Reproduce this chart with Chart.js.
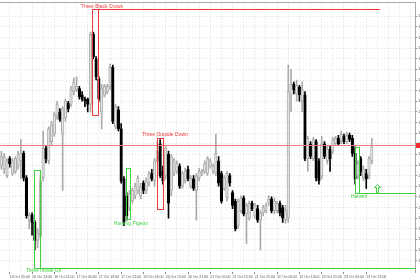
<!DOCTYPE html>
<html>
<head>
<meta charset="utf-8">
<script src="https://cdn.jsdelivr.net/npm/chart.js@4.4.1/dist/chart.umd.min.js"></script>
<style>
  html, body { margin: 0; padding: 0; background: #fff; }
  canvas { display: block; }
</style>
</head>
<body>
<canvas id="chart" width="420" height="280"></canvas>
<script>
// hourly bars, EURUSD-like, 16 Oct 02:00 .. 23 Oct 15:00 (plus empty slots on the right)
const times = [
  '16 Oct 02:00','16 Oct 03:00','16 Oct 04:00','16 Oct 05:00','16 Oct 06:00','16 Oct 07:00','16 Oct 08:00','16 Oct 09:00',
  '16 Oct 10:00','16 Oct 11:00','16 Oct 12:00','16 Oct 13:00','16 Oct 14:00','16 Oct 15:00','16 Oct 16:00','16 Oct 17:00',
  '16 Oct 18:00','16 Oct 19:00','16 Oct 20:00','16 Oct 21:00','16 Oct 22:00','16 Oct 23:00',
  '17 Oct 00:00','17 Oct 01:00','17 Oct 02:00','17 Oct 03:00','17 Oct 04:00','17 Oct 05:00','17 Oct 06:00','17 Oct 07:00',
  '17 Oct 08:00','17 Oct 09:00','17 Oct 10:00','17 Oct 11:00','17 Oct 12:00','17 Oct 13:00','17 Oct 14:00','17 Oct 15:00',
  '17 Oct 16:00','17 Oct 17:00','17 Oct 18:00','17 Oct 19:00','17 Oct 20:00','17 Oct 21:00','17 Oct 22:00','17 Oct 23:00',
  '20 Oct 00:00','20 Oct 01:00','20 Oct 02:00','20 Oct 03:00','20 Oct 04:00','20 Oct 05:00','20 Oct 06:00','20 Oct 07:00',
  '20 Oct 08:00','20 Oct 09:00','20 Oct 10:00','20 Oct 11:00','20 Oct 12:00','20 Oct 13:00','20 Oct 14:00','20 Oct 15:00',
  '20 Oct 16:00','20 Oct 17:00','20 Oct 18:00','20 Oct 19:00','20 Oct 20:00','20 Oct 21:00','20 Oct 22:00','20 Oct 23:00',
  '21 Oct 00:00','21 Oct 01:00','21 Oct 02:00','21 Oct 03:00','21 Oct 04:00','21 Oct 05:00','21 Oct 06:00','21 Oct 07:00',
  '21 Oct 08:00','21 Oct 09:00','21 Oct 10:00','21 Oct 11:00','21 Oct 12:00','21 Oct 13:00','21 Oct 14:00','21 Oct 15:00',
  '21 Oct 16:00','21 Oct 17:00','21 Oct 18:00','21 Oct 19:00','21 Oct 20:00','21 Oct 21:00','21 Oct 22:00','21 Oct 23:00',
  '22 Oct 00:00','22 Oct 01:00','22 Oct 02:00','22 Oct 03:00','22 Oct 04:00','22 Oct 05:00','22 Oct 06:00','22 Oct 07:00',
  '22 Oct 08:00','22 Oct 09:00','22 Oct 10:00','22 Oct 11:00','22 Oct 12:00','22 Oct 13:00','22 Oct 14:00','22 Oct 15:00',
  '22 Oct 16:00','22 Oct 17:00','22 Oct 18:00','22 Oct 19:00','22 Oct 20:00','22 Oct 21:00','22 Oct 22:00','22 Oct 23:00',
  '23 Oct 00:00','23 Oct 01:00','23 Oct 02:00','23 Oct 03:00','23 Oct 04:00','23 Oct 05:00','23 Oct 06:00','23 Oct 07:00',
  '23 Oct 08:00','23 Oct 09:00','23 Oct 10:00','23 Oct 11:00','23 Oct 12:00','23 Oct 13:00','23 Oct 14:00','23 Oct 15:00',
  '23 Oct 16:00','23 Oct 17:00','23 Oct 18:00','23 Oct 19:00','23 Oct 20:00','23 Oct 21:00','23 Oct 22:00','23 Oct 23:00',
  '24 Oct 00:00','24 Oct 01:00','24 Oct 02:00','24 Oct 03:00','24 Oct 04:00','24 Oct 05:00','24 Oct 06:00'
];

const shownTicks = [
  '16 Oct 05:00','16 Oct 13:00','16 Oct 21:00','17 Oct 05:00','17 Oct 13:00','17 Oct 21:00',
  '20 Oct 05:00','20 Oct 13:00','20 Oct 21:00','21 Oct 05:00','21 Oct 13:00','21 Oct 21:00',
  '22 Oct 05:00','22 Oct 13:00','22 Oct 21:00','23 Oct 05:00','23 Oct 13:00'
];

const open = [
  1.2739,1.2736,1.2730,1.2746,1.2732,1.2734,1.2739,1.2744,1.2751,1.2728,
  1.2688,1.2693,1.2686,1.2669,1.2673,1.2728,1.2756,1.2744,1.2762,1.2769,
  1.2786,1.2790,1.2769,1.2784,1.2798,1.2797,1.2809,1.2811,1.2812,1.2806,
  1.2802,1.2802,1.2797,1.2863,1.2840,1.2821,1.2790,1.2806,1.2809,1.2814,
  1.2832,1.2776,1.2792,1.2774,1.2727,1.2711,1.2700,1.2706,1.2711,1.2716,
  1.2711,1.2723,1.2716,1.2723,1.2732,1.2725,1.2744,1.2760,1.2734,1.2730,
  1.2750,1.2716,1.2732,1.2734,1.2739,1.2720,1.2725,1.2736,1.2720,1.2727,
  1.2716,1.2728,1.2732,1.2734,1.2732,1.2739,1.2734,1.2732,1.2744,1.2732,
  1.2718,1.2709,1.2730,1.2714,1.2706,1.2683,1.2697,1.2709,1.2694,1.2690,
  1.2704,1.2692,1.2699,1.2688,1.2695,1.2697,1.2704,1.2708,1.2697,1.2697,
  1.2704,1.2700,1.2688,1.2690,1.2806,1.2816,1.2807,1.2813,1.2800,1.2806,
  1.2746,1.2760,1.2746,1.2762,1.2744,1.2730,1.2760,1.2744,1.2755,1.2753,
  1.2760,1.2765,1.2762,1.2767,1.2762,1.2768,1.2765,1.2751,1.2730,1.2746,
  1.2728,1.2732,1.2730,1.2744
];
const high = [
  1.2753,1.2751,1.2746,1.2748,1.2746,1.2748,1.2753,1.2764,1.2753,1.2730,
  1.2695,1.2695,1.2688,1.2680,1.2730,1.2772,1.2758,1.2776,1.2781,1.2790,
  1.2800,1.2793,1.2795,1.2802,1.2800,1.2814,1.2822,1.2823,1.2814,1.2809,
  1.2804,1.2803,1.2865,1.2865,1.2842,1.2823,1.2816,1.2816,1.2816,1.2835,
  1.2834,1.2797,1.2795,1.2779,1.2729,1.2714,1.2716,1.2718,1.2723,1.2730,
  1.2723,1.2725,1.2728,1.2734,1.2736,1.2746,1.2762,1.2764,1.2739,1.2758,
  1.2753,1.2750,1.2746,1.2744,1.2741,1.2734,1.2737,1.2739,1.2730,1.2730,
  1.2732,1.2737,1.2736,1.2744,1.2748,1.2746,1.2741,1.2769,1.2748,1.2734,
  1.2730,1.2734,1.2732,1.2716,1.2708,1.2708,1.2711,1.2711,1.2704,1.2706,
  1.2706,1.2704,1.2702,1.2697,1.2702,1.2704,1.2711,1.2710,1.2709,1.2706,
  1.2706,1.2702,1.2702,1.2834,1.2830,1.2818,1.2820,1.2815,1.2818,1.2809,
  1.2767,1.2762,1.2766,1.2764,1.2746,1.2767,1.2762,1.2758,1.2758,1.2766,
  1.2767,1.2768,1.2772,1.2769,1.2771,1.2770,1.2768,1.2757,1.2744,1.2748,
  1.2739,1.2736,1.2748,1.2765
];
const low = [
  1.2736,1.2732,1.2728,1.2738,1.2730,1.2732,1.2736,1.2727,1.2725,1.2690,
  1.2680,1.2674,1.2660,1.2662,1.2671,1.2725,1.2742,1.2741,1.2758,1.2767,
  1.2783,1.2781,1.2716,1.2781,1.2790,1.2795,1.2806,1.2809,1.2802,1.2800,
  1.2795,1.2790,1.2790,1.2840,1.2820,1.2800,1.2774,1.2804,1.2807,1.2811,
  1.2779,1.2774,1.2772,1.2723,1.2683,1.2688,1.2697,1.2704,1.2708,1.2713,
  1.2708,1.2713,1.2713,1.2720,1.2725,1.2720,1.2742,1.2728,1.2722,1.2727,
  1.2690,1.2711,1.2730,1.2732,1.2718,1.2718,1.2723,1.2725,1.2718,1.2716,
  1.2688,1.2725,1.2730,1.2732,1.2730,1.2737,1.2732,1.2730,1.2720,1.2704,
  1.2716,1.2706,1.2720,1.2699,1.2678,1.2680,1.2695,1.2692,1.2666,1.2688,
  1.2697,1.2690,1.2686,1.2660,1.2692,1.2695,1.2702,1.2695,1.2694,1.2695,
  1.2692,1.2686,1.2685,1.2686,1.2790,1.2807,1.2800,1.2800,1.2790,1.2744,
  1.2734,1.2746,1.2744,1.2725,1.2722,1.2727,1.2746,1.2741,1.2734,1.2751,
  1.2759,1.2759,1.2760,1.2760,1.2760,1.2762,1.2748,1.2722,1.2727,1.2730,
  1.2725,1.2718,1.2727,1.2741
];
const close = [
  1.2748,1.2748,1.2744,1.2741,1.2744,1.2746,1.2750,1.2751,1.2728,1.2692,
  1.2693,1.2686,1.2669,1.2676,1.2725,1.2756,1.2746,1.2774,1.2778,1.2788,
  1.2797,1.2783,1.2793,1.2800,1.2793,1.2811,1.2818,1.2814,1.2804,1.2802,
  1.2800,1.2797,1.2863,1.2842,1.2823,1.2802,1.2812,1.2814,1.2814,1.2832,
  1.2781,1.2795,1.2774,1.2725,1.2686,1.2692,1.2713,1.2716,1.2720,1.2728,
  1.2720,1.2716,1.2725,1.2732,1.2727,1.2744,1.2753,1.2730,1.2725,1.2756,
  1.2704,1.2748,1.2744,1.2741,1.2720,1.2732,1.2734,1.2727,1.2727,1.2718,
  1.2730,1.2734,1.2734,1.2741,1.2746,1.2744,1.2739,1.2751,1.2723,1.2706,
  1.2728,1.2732,1.2723,1.2702,1.2680,1.2706,1.2709,1.2694,1.2702,1.2704,
  1.2699,1.2702,1.2688,1.2695,1.2700,1.2702,1.2708,1.2697,1.2706,1.2704,
  1.2695,1.2690,1.2697,1.2809,1.2816,1.2811,1.2815,1.2806,1.2811,1.2746,
  1.2765,1.2748,1.2764,1.2728,1.2725,1.2760,1.2748,1.2755,1.2746,1.2764,
  1.2765,1.2760,1.2769,1.2762,1.2768,1.2764,1.2751,1.2727,1.2741,1.2734,
  1.2736,1.2727,1.2746,1.2758
];

// candle pattern marks, in bar index / price units
const patterns = [
  { name: 'Three Black Crows',  bull: false, from: 32.5,  to: 34.6,  top: 1.28865, bottom: 1.27866, line: 'top',    lineTo: 135.7, labelBar: 36.1,  labelPrice: 1.2889 },
  { name: 'Three Outside Down', bull: false, from: 55.8,  to: 57.9,  top: 1.27652, bottom: 1.26989, line: null,     lineTo: null,  labelBar: 58.7,  labelPrice: 1.2769 },
  { name: 'Homing Pigeon',      bull: true,  from: 44.9,  to: 46.3,  top: 1.27372, bottom: 1.26896, line: null,     lineTo: null,  labelBar: 46.5,  labelPrice: 1.2685 },
  { name: 'Three Inside Up',    bull: true,  from: 11.7,  to: 13.8,  top: 1.27353, bottom: 1.26429, line: 'bottom', lineTo: 150,   labelBar: 15.1,  labelPrice: 1.26405 },
  { name: 'Harami',             bull: true,  from: 127.1, to: 128.5, top: 1.27568, bottom: 1.27139, line: 'bottom', lineTo: 150,   labelBar: 128.4, labelPrice: 1.2710 }
];
const levelPrice = 1.27586;
const arrowBar = 135;
const arrowTop = 1.27222, arrowBottom = 1.27148;

const RED = '#f03a3a';
const GREEN = '#3fd23f';

const up = open.map((o, i) => close[i] >= o);
const bodies = open.map((o, i) => [o, close[i]]);
const wicks = low.map((l, i) => [l, high[i]]);

const hourOf = s => parseInt(s.slice(-5, -3), 10);

const patternPlugin = {
  id: 'patterns',
  afterDatasetsDraw(chart) {
    const { ctx, chartArea: a, scales: { x, y } } = chart;
    const px = v => Math.min(Math.round(x.getPixelForValue(v)), Math.round(a.right));
    const py = v => Math.round(y.getPixelForValue(v));
    // solid 1px lines as filled rects (no antialiasing)
    const hLine = (x1, x2, yy) => ctx.fillRect(Math.min(x1, x2), yy, Math.abs(x2 - x1) + 1, 1);
    const vLine = (xx, y1, y2) => ctx.fillRect(xx, Math.min(y1, y2), 1, Math.abs(y2 - y1) + 1);
    ctx.save();

    // level line + price tag
    ctx.fillStyle = '#f47a7a';
    hLine(Math.round(a.left), Math.round(a.right), py(levelPrice));
    ctx.fillStyle = '#ee2a2a';
    ctx.fillRect(a.right + 1, py(levelPrice) - 2, 6, 5);

    patterns.forEach(p => {
      const col = p.bull ? GREEN : RED;
      ctx.fillStyle = col;
      const x1 = px(p.from), x2 = px(p.to), y1 = py(p.top), y2 = py(p.bottom);
      hLine(x1, x2, y1);
      hLine(x1, x2, y2);
      vLine(x1, y1, y2);
      vLine(x2, y1, y2);
      if (p.line) {
        hLine(x2, px(p.lineTo), p.line === 'top' ? y1 : y2);
      }
      ctx.font = '5px "Liberation Sans", Arial, sans-serif';
      ctx.textAlign = 'center';
      ctx.textBaseline = 'middle';
      ctx.fillText(p.name, x.getPixelForValue(p.labelBar), y.getPixelForValue(p.labelPrice));
    });

    // hollow up arrow
    const cx = px(arrowBar) + 0.5, yt = py(arrowTop) + 0.5, yb = py(arrowBottom) + 0.5;
    ctx.strokeStyle = GREEN;
    ctx.lineWidth = 1;
    ctx.beginPath();
    ctx.moveTo(cx, yt);
    ctx.lineTo(cx + 3, yt + 3);
    ctx.lineTo(cx + 1, yt + 3);
    ctx.lineTo(cx + 1, yb);
    ctx.lineTo(cx - 1, yb);
    ctx.lineTo(cx - 1, yt + 3);
    ctx.lineTo(cx - 3, yt + 3);
    ctx.closePath();
    ctx.stroke();

    // frame
    ctx.fillStyle = '#a8a8a8';
    hLine(Math.round(a.left), Math.round(a.right), Math.round(a.top) - 1);
    vLine(Math.round(a.right), Math.round(a.top) - 1, Math.round(a.bottom));
    ctx.restore();
  }
};

new Chart(document.getElementById('chart'), {
  type: 'bar',
  data: {
    labels: times,
    datasets: [
      {
        data: bodies,
        order: 0,
        grouped: false,
        barThickness: 2.6,
        backgroundColor: up.map(u => u ? '#e6e6e6' : '#000000'),
        borderColor: up.map(u => u ? '#acacac' : '#000000'),
        borderWidth: 1,
        borderSkipped: false
      },
      {
        data: wicks,
        order: 1,
        grouped: false,
        barThickness: 1,
        backgroundColor: up.map(u => u ? '#ababab' : '#000000'),
        borderWidth: 0
      }
    ]
  },
  options: {
    responsive: false,
    animation: false,
    devicePixelRatio: 1,
    layout: { padding: { top: 1, left: 0, right: 0, bottom: 0 } },
    plugins: { legend: { display: false }, tooltip: { enabled: false } },
    scales: {
      x: {
        type: 'category',
        offset: true,
        afterFit: s => { s.height = 8; },
        grid: {
          offset: false,
          color: c => (hourOf(times[c.index] || '00:00') % 4 === 1) ? '#dedede' : 'rgba(0,0,0,0)',
          tickColor: c => shownTicks.includes(times[c.index]) ? '#8a8a8a' : 'rgba(0,0,0,0)',
          tickLength: 2
        },
        border: { display: false, dash: [1, 2] },
        ticks: {
          autoSkip: false,
          maxRotation: 0,
          minRotation: 0,
          align: 'start',
          padding: 1,
          color: '#555555',
          font: { size: 3.5, family: '"Liberation Sans", Arial, sans-serif' },
          callback: (v, i) => shownTicks.includes(times[i]) ? times[i] : ''
        }
      },
      y: {
        position: 'right',
        min: 1.26393,
        max: 1.28921,
        afterFit: s => { s.width = 5; },
        afterBuildTicks: s => {
          s.ticks = s.ticks.filter(t => Math.abs(t.value * 1000 - Math.round(t.value * 1000)) < 1e-6);
        },
        grid: { color: '#dedede', tickColor: '#8a8a8a', tickLength: 2 },
        border: { display: false, dash: [1, 2] },
        ticks: {
          stepSize: 0.001,
          padding: 1,
          color: '#555555',
          font: { size: 4, family: '"Liberation Sans", Arial, sans-serif' },
          callback: v => v.toFixed(4)
        }
      }
    }
  },
  plugins: [patternPlugin]
});
</script>
</body>
</html>
